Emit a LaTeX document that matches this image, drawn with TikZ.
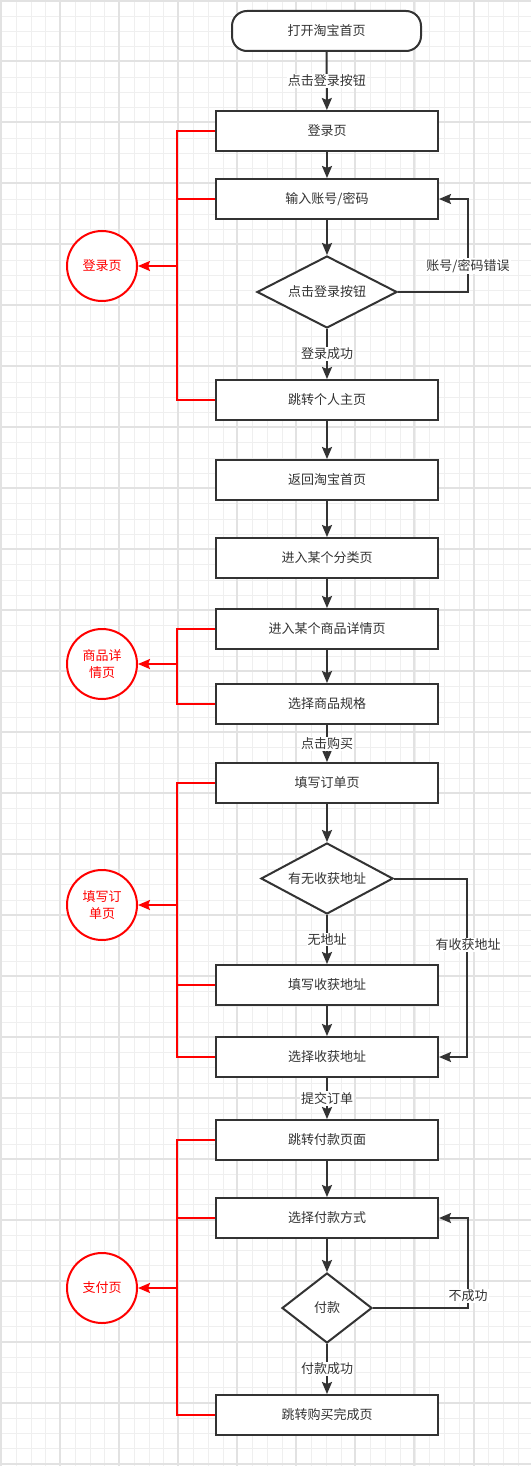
\documentclass[tikz,border=0pt]{standalone}
\usepackage{fontspec}
\newfontfamily\cjk{Noto Sans CJK SC}
\usetikzlibrary{shapes.geometric,arrows.meta,calc}
\definecolor{ink}{HTML}{333333}
\definecolor{gminor}{HTML}{EFEFEF}
\definecolor{gmajor}{HTML}{E2E2E2}
\definecolor{rd}{HTML}{FF0000}
\begin{document}
\begin{tikzpicture}[x=1pt,y=-1pt,
  every node/.style={font=\cjk\fontsize{13}{15}\selectfont, text=ink},
  box/.style={draw=ink, line width=2pt, fill=white, minimum width=222pt, minimum height=40pt, inner sep=0pt},
  term/.style={draw=ink, line width=2pt, fill=white, minimum width=189pt, minimum height=40pt, rounded corners=15pt, inner sep=0pt},
  dia/.style={draw=ink, line width=2pt, fill=white, shape=diamond, inner sep=0pt},
  lbl/.style={fill=white, inner sep=1pt},
  arr/.style={draw=ink, line width=2pt, -{Stealth[length=12pt,width=10pt,inset=2pt]}},
  redl/.style={draw=rd, line width=2pt},
  redarr/.style={draw=rd, line width=2pt, -{Stealth[length=12pt,width=10pt,inset=2pt]}},
  rc/.style={draw=rd, line width=2pt, circle, minimum size=70pt, inner sep=0pt, fill=white, text=rd, align=center, font=\cjk\fontsize{13}{17}\selectfont}
]
\useasboundingbox (0,0) rectangle (531,1466);
\fill[white] (0,0) rectangle (531,1466);
% grid
\foreach \i in {0,...,36} {\pgfmathsetmacro\xx{round(1+14.77*\i)+0.5}\draw[gminor, line width=1pt] (\xx,0) -- (\xx,1466);}
\foreach \i in {0,...,96} {\pgfmathsetmacro\yy{round(0.5+15.24*\i)+0.5}\draw[gminor, line width=1pt] (0,\yy) -- (531,\yy);}
\foreach \i in {0,...,9} {\pgfmathsetmacro\xx{round(1+59.07*\i)}\draw[gmajor, line width=2pt] (\xx,0) -- (\xx,1466);}
\foreach \i in {0,...,24} {\pgfmathsetmacro\yy{round(0.5+60.96*\i)}\draw[gmajor, line width=2pt] (0,\yy) -- (531,\yy);}

% main nodes
\node[term] (start) at (326.5,31) {打开淘宝首页};
\node[box] (login) at (327,131) {登录页};
\node[box] (input) at (327,199) {输入账号/密码};
\node[dia, shape aspect=1.94, minimum width=140pt, minimum height=72pt] (d1) at (327,292) {点击登录按钮};
\node[box] (home) at (327,400) {跳转个人主页};
\node[box] (back) at (327,480) {返回淘宝首页};
\node[box] (cat) at (327,558) {进入某个分类页};
\node[box] (detail) at (327,629) {进入某个商品详情页};
\node[box] (spec) at (327,704) {选择商品规格};
\node[box] (order) at (327,783) {填写订单页};
\node[dia, shape aspect=1.86, minimum width=132pt, minimum height=71pt] (d2) at (327,878.5) {有无收获地址};
\node[box] (fill) at (327,985) {填写收获地址};
\node[box] (sel) at (327,1057) {选择收获地址};
\node[box] (pay) at (327,1140) {跳转付款页面};
\node[box] (way) at (327,1218) {选择付款方式};
\node[dia, minimum width=90pt, minimum height=70pt] (d3) at (327,1308) {付款};
\node[box] (done) at (327,1415) {跳转购买完成页};

% main flow
\draw[arr] (start) -- node[lbl] (l1) {点击登录按钮} (login);
\draw[arr] (login) -- (input);
\draw[arr] (input) -- (d1);
\draw[arr] (d1) -- node[lbl] (l2) {登录成功} (home);
\draw[arr] (home) -- (back);
\draw[arr] (back) -- (cat);
\draw[arr] (cat) -- (detail);
\draw[arr] (detail) -- (spec);
\draw[arr] (spec) -- node[lbl] (l3) {点击购买} (order);
\draw[arr] (order) -- (d2);
\draw[arr] (d2) -- node[lbl] (l4) {无地址} (fill);
\draw[arr] (fill) -- (sel);
\draw[arr] (sel) -- node[lbl] (l5) {提交订单} (pay);
\draw[arr] (pay) -- (way);
\draw[arr] (way) -- (d3);
\draw[arr] (d3) -- node[lbl] (l6) {付款成功} (done);

% loops
\coordinate (lx1) at (468,0);
\coordinate (lx2) at (467,0);
\draw[arr] (d1.east) -- (d1.east -| lx1) |- (input.east);
\node[lbl] (l7) at (468,266) {账号/密码错误};
\draw[arr] (d2.east) -- (d2.east -| lx2) |- (sel.east);
\node[lbl] (l8) at (468,945) {有收获地址};
\draw[arr] (d3.east) -- (d3.east -| lx1) |- (way.east);
\node[lbl] (l9) at (468,1296) {不成功};

% red groups
\node[rc] (c1) at (102,266) {登录页};
\node[rc] (c2) at (102,664) {商品详\\情页};
\node[rc] (c3) at (102,905) {填写订\\单页};
\node[rc] (c4) at (102,1288) {支付页};
\coordinate (bx) at (177,0);

\draw[redl] (login.west) -- (login.west -| bx) -- (home.west -| bx) -- (home.west);
\draw[redl] (input.west) -- (input.west -| bx);
\draw[redarr] (c1.east -| bx) -- (c1.east);

\draw[redl] (detail.west) -- (detail.west -| bx) -- (spec.west -| bx) -- (spec.west);
\draw[redarr] (c2.east -| bx) -- (c2.east);

\draw[redl] (order.west) -- (order.west -| bx) -- (sel.west -| bx) -- (sel.west);
\draw[redl] (fill.west) -- (fill.west -| bx);
\draw[redarr] (c3.east -| bx) -- (c3.east);

\draw[redl] (pay.west) -- (pay.west -| bx) -- (done.west -| bx) -- (done.west);
\draw[redl] (way.west) -- (way.west -| bx);
\draw[redarr] (c4.east -| bx) -- (c4.east);
\end{tikzpicture}
\end{document}
